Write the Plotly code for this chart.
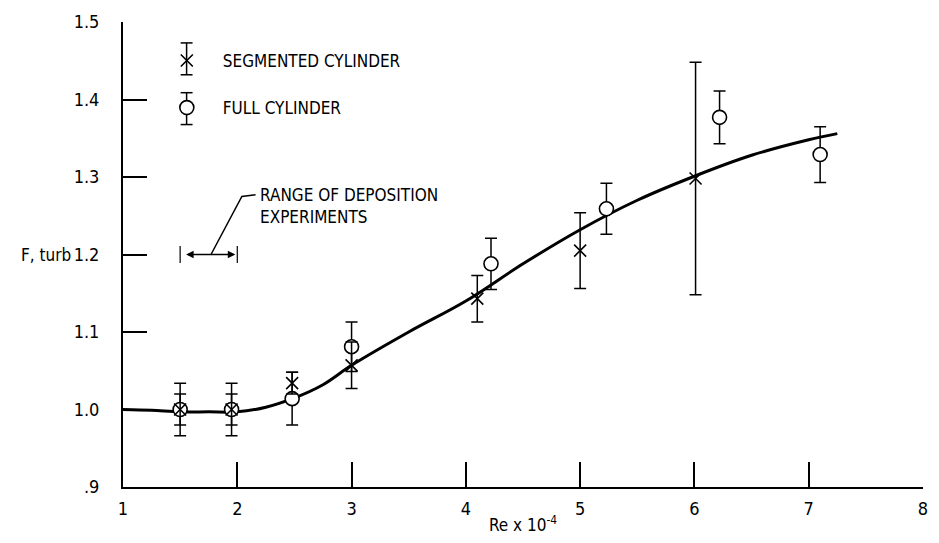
import plotly.graph_objects as go

# ---- data ----
curve_re = [1.0, 1.25, 1.5, 1.75, 2.0, 2.25, 2.5, 2.75, 3.0, 3.5, 4.0, 4.5, 5.0, 5.5, 6.0, 6.5, 7.0, 7.25]
curve_f = [1.000, 0.999, 0.997, 0.997, 0.997, 1.003, 1.015, 1.032, 1.057, 1.100, 1.140, 1.188, 1.232, 1.270,
           1.301, 1.328, 1.348, 1.356]

seg_re = [1.5, 1.95, 2.48, 3.0, 4.1, 5.0, 6.01]
seg_f = [1.0, 1.0, 1.034, 1.057, 1.143, 1.205, 1.298]
seg_err = [0.02, 0.02, 0.014, 0.03, 0.030, 0.049, 0.15]

full_re = [1.5, 1.95, 2.48, 3.0, 4.22, 5.23, 6.22, 7.1]
full_f = [1.0, 1.0, 1.014, 1.081, 1.188, 1.259, 1.377, 1.329]
full_err = [0.034, 0.034, 0.034, 0.032, 0.033, 0.033, 0.034, 0.036]

deposition_range = [1.5, 2.0]
deposition_level = 1.2

x_ticks = [1, 2, 3, 4, 5, 6, 7, 8]
y_ticks = [0.9, 1.0, 1.1, 1.2, 1.3, 1.4, 1.5]
y_ticktext = [".9", "1.0", "1.1", "1.2", "1.3", "1.4", "1.5"]

FONT = "Liberation Sans Narrow, DejaVu Sans Condensed, Arial Narrow, sans-serif"

# plot-area geometry (px) used for paper-coordinate decorations
L, R, T, B = 123, 11, 20, 56
W, H = 939, 543
PW, PH = W - L - R, H - T - B


def px(xp):
    return (xp - L) / PW


def py(yp):
    return (H - B - yp) / PH


fig = go.Figure()

fig.add_trace(go.Scatter(
    x=curve_re, y=curve_f, mode="lines", line=dict(color="black", width=3, shape="spline"),
    showlegend=False, hoverinfo="skip"))

fig.add_trace(go.Scatter(
    x=full_re, y=full_f, mode="markers", name="FULL CYLINDER", legendgroup="b", legendrank=2,
    marker=dict(symbol="circle", size=14, color="white", line=dict(width=1.6, color="black")),
    error_y=dict(type="data", array=full_err, visible=True, color="black", thickness=1.5, width=6),
    cliponaxis=False))

fig.add_trace(go.Scatter(
    x=seg_re, y=seg_f, mode="markers", name="SEGMENTED CYLINDER", legendgroup="a", legendrank=1,
    marker=dict(symbol="x-thin-open", size=12, color="black", line=dict(width=1.6, color="black")),
    error_y=dict(type="data", array=seg_err, visible=True, color="black", thickness=1.5, width=6),
    cliponaxis=False))

# range of deposition experiments: double arrow with end bars
fig.add_annotation(x=deposition_range[1], y=deposition_level, ax=deposition_range[0], ay=deposition_level,
                   xref="x", yref="y", axref="x", ayref="y", text=" ", showarrow=True,
                   arrowhead=2, arrowside="end+start", arrowsize=1, arrowwidth=1.5, arrowcolor="black",
                   standoff=2, startstandoff=2)
for xr in deposition_range:
    fig.add_shape(type="line", x0=xr, x1=xr, y0=deposition_level - 0.011, y1=deposition_level + 0.011,
                  xref="x", yref="y", line=dict(color="black", width=1.2))
mid = (deposition_range[0] + deposition_range[1]) / 2
fig.add_shape(type="path", xref="x", yref="y",
              path=f"M {mid + 0.02},{deposition_level} L 2.04,1.275 L 2.16,1.277",
              line=dict(color="black", width=1.5))
fig.add_annotation(x=2.18, y=1.262, xref="x", yref="y", xanchor="left", yanchor="middle",
                   text="RANGE OF DEPOSITION<br>EXPERIMENTS", showarrow=False, align="left",
                   font=dict(family=FONT, size=17, color="black"))

# y-axis title placed horizontally
fig.add_annotation(x=-0.063, y=deposition_level, xref="paper", yref="y", xanchor="right", yanchor="middle",
                   text="F, turb", showarrow=False, font=dict(family=FONT, size=17, color="black"))

# error-bar glyphs for the legend symbols
LEG_X = 187
leg_bars = [(41, 73), (91, 123)]
for y_top, y_bot in leg_bars:
    fig.add_shape(type="line", xref="paper", yref="paper", x0=px(LEG_X), x1=px(LEG_X),
                  y0=py(y_top), y1=py(y_bot), line=dict(color="black", width=1.5))
    for yy in (y_top, y_bot):
        fig.add_shape(type="line", xref="paper", yref="paper", x0=px(LEG_X - 6), x1=px(LEG_X + 6),
                      y0=py(yy), y1=py(yy), line=dict(color="black", width=1.5))

fig.update_layout(
    width=W, height=H,
    margin=dict(l=L, r=R, t=T, b=B),
    paper_bgcolor="white", plot_bgcolor="white",
    font=dict(family=FONT, size=17, color="black"),
    showlegend=True,
    legend=dict(x=px(151), y=0.955, xanchor="left", yanchor="top", bgcolor="rgba(0,0,0,0)",
                itemwidth=62, tracegroupgap=22, font=dict(family=FONT, size=17, color="black")),
    xaxis=dict(range=[1, 8], tickvals=x_ticks, ticks="inside", ticklen=25, tickwidth=1.8, tickcolor="black",
               showline=True, linecolor="black", linewidth=2, showgrid=False, zeroline=False,
               ticklabelstandoff=4, tickfont=dict(family=FONT, size=18),
               title=dict(text="Re x 10<sup>-4</sup>", standoff=2, font=dict(family=FONT, size=17))),
    yaxis=dict(range=[0.9, 1.5], tickvals=y_ticks, ticktext=y_ticktext, ticks="inside", ticklen=24,
               tickwidth=1.8, tickcolor="black", showline=True, linecolor="black", linewidth=2,
               showgrid=False, zeroline=False, ticklabelstandoff=18, tickfont=dict(family=FONT, size=18)),
)

fig.write_html("out.html")
